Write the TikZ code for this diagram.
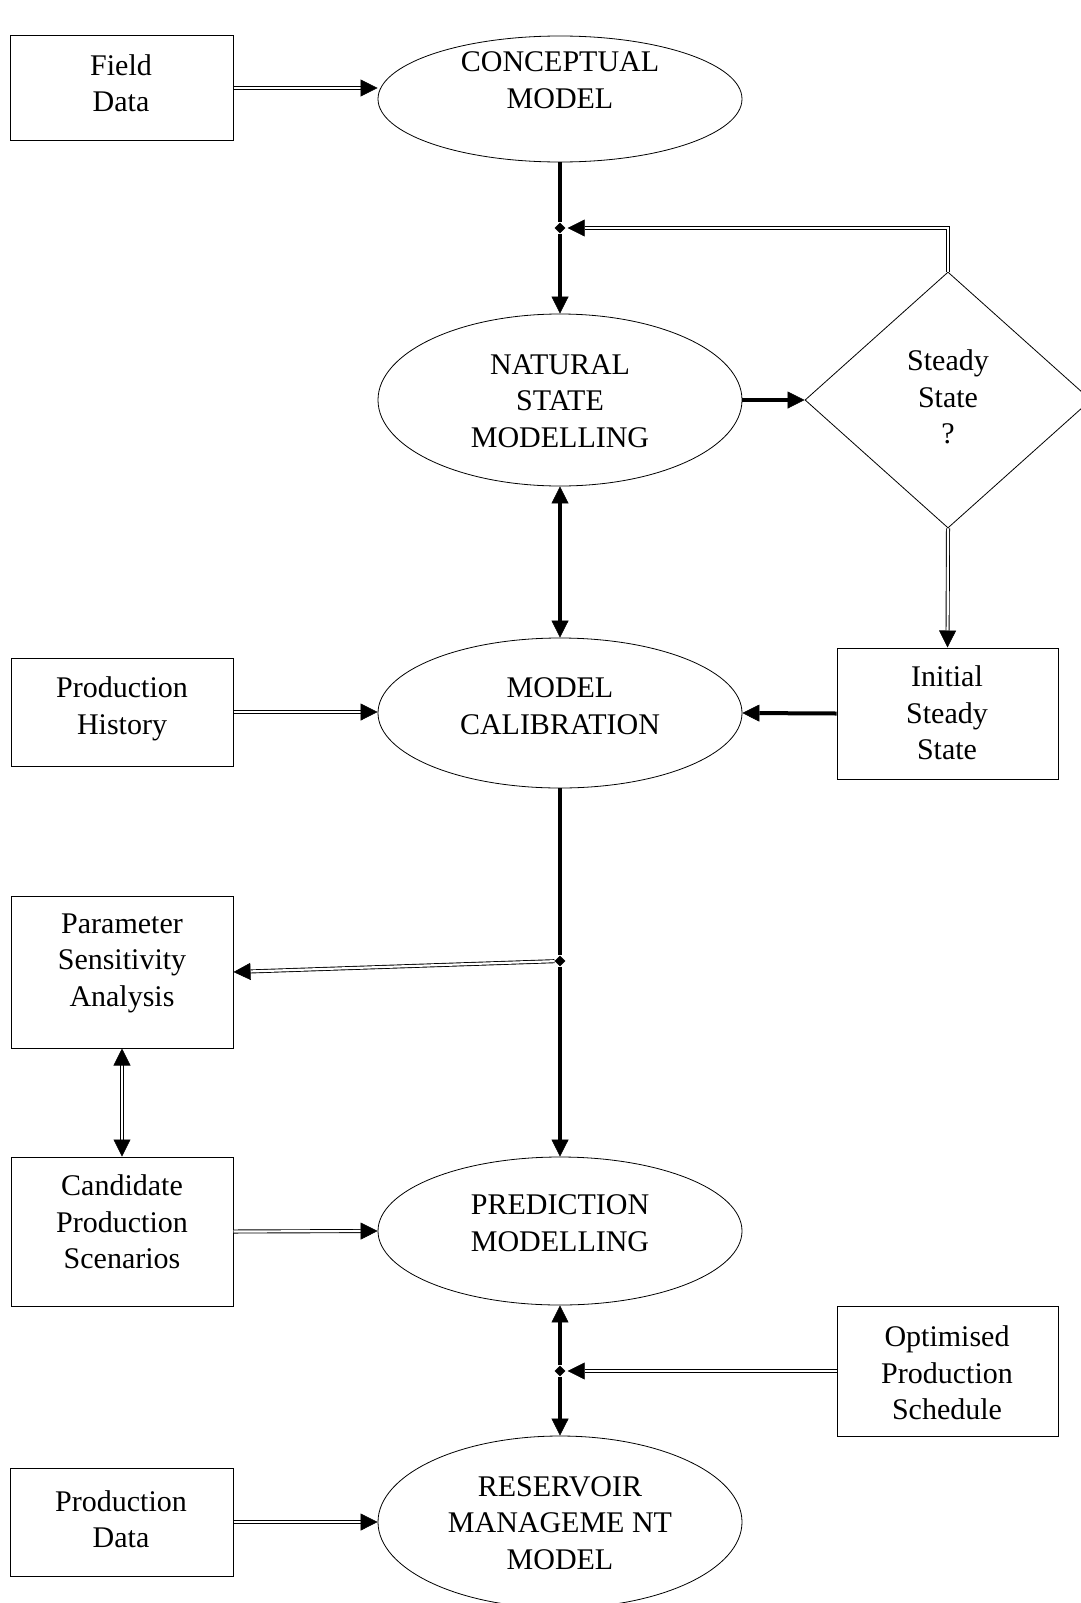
\documentclass[tikz,border=0pt]{standalone}
\usepackage{fontspec}
\setmainfont{Liberation Serif}
\usetikzlibrary{arrows.meta,shapes.geometric}

\begin{document}
\begin{tikzpicture}[x=1pt,y=-1pt,
  box/.style={draw, line width=1pt, rectangle, inner sep=0pt},
  oval/.style={draw, line width=0.8pt, ellipse, inner sep=0pt},
  rhomb/.style={draw, line width=0.8pt, diamond, inner sep=0pt},
  lbl/.style={align=center, font=\fontsize{30}{36.5}\selectfont, inner sep=0pt},
  jdot/.style={diamond, fill=black, inner sep=0pt, minimum width=11pt, minimum height=11pt},
  tip/.style={-{Triangle[length=17pt,width=17pt,line width=0.6pt]}},
  bitip/.style={{Triangle[length=17pt,width=17pt,line width=0.6pt]}-{Triangle[length=17pt,width=17pt,line width=0.6pt]}},
  heavy/.style={line width=4pt},
  twin/.style={line width=0.9pt, double distance=2.2pt},
  twinb/.style={line width=1.6pt, double distance=1.6pt},
]
\clip (0,0) rectangle (1081,1603);
\fill[white] (0,0) rectangle (1081,1603);

% shapes
\node[box, minimum width=223pt, minimum height=104pt] (field) at (121.5,88) {};
\node[oval, minimum width=364pt, minimum height=126pt] (concept) at (560,99) {};
\node[oval, minimum width=364pt, minimum height=172pt] (natural) at (560,400) {};
\node[rhomb, minimum width=286pt, minimum height=256pt] (steady) at (948,400) {};
\node[box, minimum width=221pt, minimum height=131pt] (initial) at (947.5,713.5) {};
\node[box, minimum width=222pt, minimum height=108pt] (history) at (122,712) {};
\node[oval, minimum width=364pt, minimum height=150pt] (calib) at (560,713) {};
\node[box, minimum width=222pt, minimum height=152pt] (param) at (122,972) {};
\node[box, minimum width=222pt, minimum height=149pt] (cand) at (122,1231.5) {};
\node[oval, minimum width=364pt, minimum height=148pt] (pred) at (560,1231) {};
\node[box, minimum width=221pt, minimum height=130pt] (optim) at (947.5,1371) {};
\node[box, minimum width=223pt, minimum height=108pt] (pdata) at (121.5,1522) {};
\node[oval, minimum width=364pt, minimum height=172pt] (reserv) at (560,1522) {};

% texts
\node[lbl] (fieldtxt) at (121,83) {Field\\Data};
\node[lbl] (concepttxt) at (560,80) {CONCEPTUAL\\MODEL};
\node[lbl] (naturaltxt) at (560,401) {NATURAL\\STATE\\MODELLING};
\node[lbl] (steadytxt) at (948,397) {Steady\\State\\?};
\node[lbl] (initialtxt) at (947,713) {Initial\\Steady\\State};
\node[lbl] (historytxt) at (122,709) {Production\\History};
\node[lbl] (calibtxt) at (560,706) {MODEL\\CALIBRATION};
\node[lbl] (paramtxt) at (122,963) {Parameter\\Sensitivity\\Analysis};
\node[lbl] (candtxt) at (122,1222) {Candidate\\Production\\Scenarios};
\node[lbl] (predtxt) at (560,1223) {PREDICTION\\MODELLING};
\node[lbl] (optimtxt) at (947,1373) {Optimised\\Production\\Schedule};
\node[lbl] (pdatatxt) at (121,1519) {Production\\Data};
\node[lbl] (reservtxt) at (560,1523) {RESERVOIR\\MANAGEME NT\\MODEL};

% junction points
\node[jdot] (j1) at (560,228) {};
\node[jdot] (j2) at (560,961) {};
\node[jdot] (j3) at (560,1371) {};

% connectors
\draw[twin,tip] (field.east) -- (field.east -| concept.west);
\draw[heavy] (concept.south) -- (j1);
\draw[heavy,tip] (j1) -- (natural.north);
\draw[twinb,tip,shorten >=2pt] (steady.north) |- (j1);
\draw[heavy,tip] (natural.east) -- (steady.west);
\draw[heavy,bitip] (natural.south) -- (calib.north);
\draw[twin,tip] (steady.south) -- (initial.north);
\draw[heavy,tip] (initial.west) -- (calib.east);
\draw[twinb,tip] (history.east) -- (history.east -| calib.west);
\draw[heavy] (calib.south) -- (j2);
\draw[heavy,tip] (j2) -- (pred.north);
\draw[twin,tip] (j2) -- (param.east);
\draw[twin,bitip] (param.south) -- (cand.north);
\draw[twin,tip] (cand.east) -- (pred.west);
\draw[heavy,tip] (j3) -- (pred.south);
\draw[heavy,tip] (j3) -- (reserv.north);
\draw[twinb,tip,shorten >=2pt] (optim.west) -- (j3);
\draw[twinb,tip] (pdata.east) -- (reserv.west);
\end{tikzpicture}
\end{document}
